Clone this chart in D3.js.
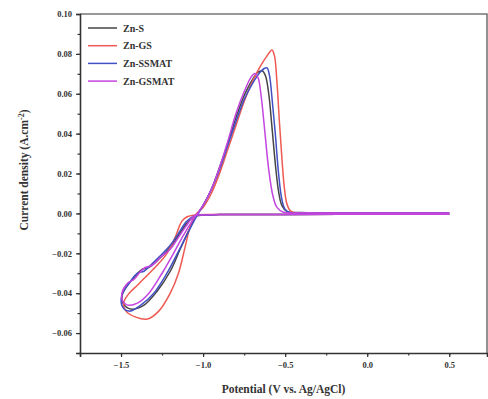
<!DOCTYPE html>
<html>
<head>
<meta charset="utf-8">
<script src="https://cdn.jsdelivr.net/npm/d3@7"></script>
<style>
  body { margin: 0; background: #fff; }
  text { font-family: "Liberation Serif", "Times New Roman", serif; font-weight: bold; }
</style>
</head>
<body>
<div id="chart"></div>
<script>
// cyclic voltammograms (V vs Ag/AgCl, A/cm2)
const seriesNames = ["Zn-S", "Zn-GS", "Zn-SSMAT", "Zn-GSMAT"];
const seriesColors = ["#454545", "#ee5a52", "#4150c4", "#c445e0"];

const potentialZnS = [0.5, 0.0, -0.5, -0.9, -1.0, -1.05, -1.1, -1.15, -1.2, -1.27, -1.33, -1.37, -1.42, -1.47, -1.495,
  -1.48, -1.43, -1.36, -1.28, -1.2, -1.14, -1.09, -1.04, -1.0, -0.95, -0.9, -0.85, -0.8, -0.75, -0.7, -0.665, -0.64,
  -0.62, -0.6, -0.58, -0.56, -0.54, -0.52, -0.49, -0.4, 0.0, 0.5];
const currentZnS = [-0.0004, -0.0004, -0.0005, -0.0006, -0.0008, -0.0015, -0.005, -0.011, -0.017, -0.023, -0.027, -0.028, -0.032, -0.037, -0.042,
  -0.046, -0.048, -0.046, -0.039, -0.029, -0.018, -0.009, -0.001, 0.004, 0.012, 0.023, 0.035, 0.048, 0.059, 0.067, 0.0708, 0.0715,
  0.069, 0.06, 0.043, 0.025, 0.011, 0.004, 0.001, 0.0004, 0.0002, 0.0002];

const potentialZnGS = [0.5, 0.0, -0.5, -0.9, -1.05, -1.1, -1.13, -1.17, -1.22, -1.28, -1.34, -1.4, -1.45, -1.485,
  -1.47, -1.41, -1.34, -1.27, -1.2, -1.15, -1.11, -1.08, -1.05, -1.0, -0.95, -0.9, -0.85, -0.8, -0.75, -0.7, -0.65, -0.61, -0.58,
  -0.565, -0.55, -0.535, -0.52, -0.505, -0.49, -0.47, -0.44, -0.3, 0.0, 0.5];
const currentZnGS = [-0.0004, -0.0004, -0.0005, -0.0006, -0.0008, -0.0018, -0.004, -0.012, -0.02, -0.026, -0.031, -0.036, -0.04, -0.045,
  -0.049, -0.052, -0.053, -0.049, -0.04, -0.03, -0.017, -0.007, -0.001, 0.003, 0.01, 0.02, 0.032, 0.044, 0.056, 0.066, 0.074, 0.079, 0.082,
  0.079, 0.066, 0.046, 0.028, 0.013, 0.005, 0.0015, 0.0004, 0.0002, 0.0002, 0.0002];

const potentialZnSSMAT = [0.5, 0.0, -0.5, -0.9, -1.0, -1.05, -1.1, -1.15, -1.2, -1.27, -1.32, -1.36, -1.4, -1.45, -1.495,
  -1.49, -1.45, -1.38, -1.3, -1.22, -1.15, -1.1, -1.05, -1.0, -0.95, -0.9, -0.85, -0.8, -0.75, -0.7, -0.65, -0.625, -0.61,
  -0.595, -0.578, -0.56, -0.54, -0.52, -0.5, -0.47, -0.3, 0.0, 0.5];
const currentZnSSMAT = [-0.0004, -0.0004, -0.0005, -0.0006, -0.0008, -0.0012, -0.004, -0.01, -0.016, -0.022, -0.026, -0.029, -0.03, -0.035, -0.041,
  -0.047, -0.049, -0.046, -0.04, -0.03, -0.019, -0.011, -0.003, 0.004, 0.012, 0.022, 0.034, 0.046, 0.057, 0.065, 0.071, 0.0728, 0.073,
  0.069, 0.056, 0.04, 0.02, 0.007, 0.002, 0.0004, 0.0002, 0.0002, 0.0002];

const potentialZnGSMAT = [0.5, 0.0, -0.5, -0.9, -1.0, -1.05, -1.1, -1.15, -1.2, -1.26, -1.31, -1.35, -1.38, -1.42, -1.46, -1.495,
  -1.49, -1.46, -1.4, -1.33, -1.25, -1.18, -1.12, -1.06, -1.0, -0.95, -0.9, -0.85, -0.8, -0.75, -0.71, -0.685,
  -0.665, -0.645, -0.625, -0.6, -0.575, -0.55, -0.51, -0.4, 0.0, 0.5];
const currentZnGSMAT = [-0.0004, -0.0004, -0.0005, -0.0006, -0.0008, -0.001, -0.006, -0.012, -0.018, -0.022, -0.026, -0.027, -0.029, -0.033, -0.035, -0.04,
  -0.044, -0.046, -0.045, -0.04, -0.03, -0.02, -0.011, -0.003, 0.004, 0.012, 0.023, 0.036, 0.05, 0.061, 0.068, 0.0702,
  0.068, 0.058, 0.042, 0.022, 0.009, 0.003, 0.0006, 0.0003, 0.0002, 0.0002];

const xTicks = [-1.5, -1.0, -0.5, 0.0, 0.5];
const yTicks = [-0.06, -0.04, -0.02, 0.00, 0.02, 0.04, 0.06, 0.08, 0.10];

const potentials = [potentialZnS, potentialZnGS, potentialZnSSMAT, potentialZnGSMAT];
const currents = [currentZnS, currentZnGS, currentZnSSMAT, currentZnGSMAT];

const width = 488, height = 399;
const mLeft = 80, mRight = 487, mTop = 14, mBottom = 353;

const svg = d3.select("#chart").append("svg")
  .attr("width", width)
  .attr("height", height);

const x = d3.scaleLinear().domain([-1.75, 0.73]).range([mLeft, mRight]);
const y = d3.scaleLinear().domain([-0.07, 0.10]).range([mBottom, mTop]);

// frame (top and right)
svg.append("path")
  .attr("d", `M${mLeft},${mTop}H${mRight}V${mBottom}`)
  .attr("fill", "none")
  .attr("stroke", "#777")
  .attr("stroke-width", 1.6);

// curves
const line = d3.line()
  .x(d => x(d[0]))
  .y(d => y(d[1]))
  .curve(d3.curveCatmullRom.alpha(0.5));

const plot = svg.append("g");
seriesNames.forEach((name, k) => {
  const pts = potentials[k].map((v, i) => [v, currents[k][i]]);
  plot.append("path")
    .datum(pts)
    .attr("d", line)
    .attr("fill", "none")
    .attr("stroke", seriesColors[k])
    .attr("stroke-width", 1.5)
    .attr("stroke-linejoin", "round");
});

// axes
svg.append("g")
  .attr("transform", `translate(0,${mBottom})`)
  .call(d3.axisBottom(x).tickValues(xTicks).tickFormat(d3.format(".1f")).tickSize(4).tickPadding(5));
svg.append("g")
  .attr("transform", `translate(0,${mBottom})`)
  .call(d3.axisBottom(x).tickValues(d3.range(-1.75, 0.74, 0.25)).tickFormat("").tickSize(2.5))
  .select(".domain").remove();

svg.append("g")
  .attr("transform", `translate(${mLeft},0)`)
  .call(d3.axisLeft(y).tickValues(yTicks).tickFormat(d3.format(".2f")).tickSize(4).tickPadding(4));
svg.append("g")
  .attr("transform", `translate(${mLeft},0)`)
  .call(d3.axisLeft(y).tickValues(d3.range(-0.07, 0.1001, 0.01)).tickFormat("").tickSize(2.5))
  .select(".domain").remove();

svg.selectAll(".domain").attr("stroke", "#333").attr("stroke-width", 1.6);
svg.selectAll(".tick line").attr("stroke", "#333").attr("stroke-width", 1.2);
svg.selectAll(".tick text")
  .attr("fill", "#333")
  .style("font-size", "8.5px")
  .style("font-family", "'Liberation Serif', serif")
  .style("font-weight", "bold");

// axis titles
svg.append("text")
  .attr("x", (mLeft + mRight) / 2)
  .attr("y", 393)
  .attr("text-anchor", "middle")
  .attr("fill", "#333")
  .style("font-size", "11.5px")
  .text("Potential (V vs. Ag/AgCl)");

svg.append("text")
  .attr("transform", `translate(28,170) rotate(-90)`)
  .attr("text-anchor", "middle")
  .attr("fill", "#333")
  .style("font-size", "11.5px")
  .html("Current density (A.cm<tspan dy='-4' font-size='8px'>-2</tspan><tspan dy='4'>)</tspan>");

// legend
const legend = svg.append("g");
seriesNames.forEach((name, k) => {
  const ly = 28 + k * 17.7;
  legend.append("line")
    .attr("x1", 88).attr("x2", 117)
    .attr("y1", ly).attr("y2", ly)
    .attr("stroke", seriesColors[k])
    .attr("stroke-width", 1.5);
  legend.append("text")
    .attr("x", 123)
    .attr("y", ly + 3.5)
    .attr("fill", "#333")
    .style("font-size", "10px")
    .text(name);
});
</script>
</body>
</html>
